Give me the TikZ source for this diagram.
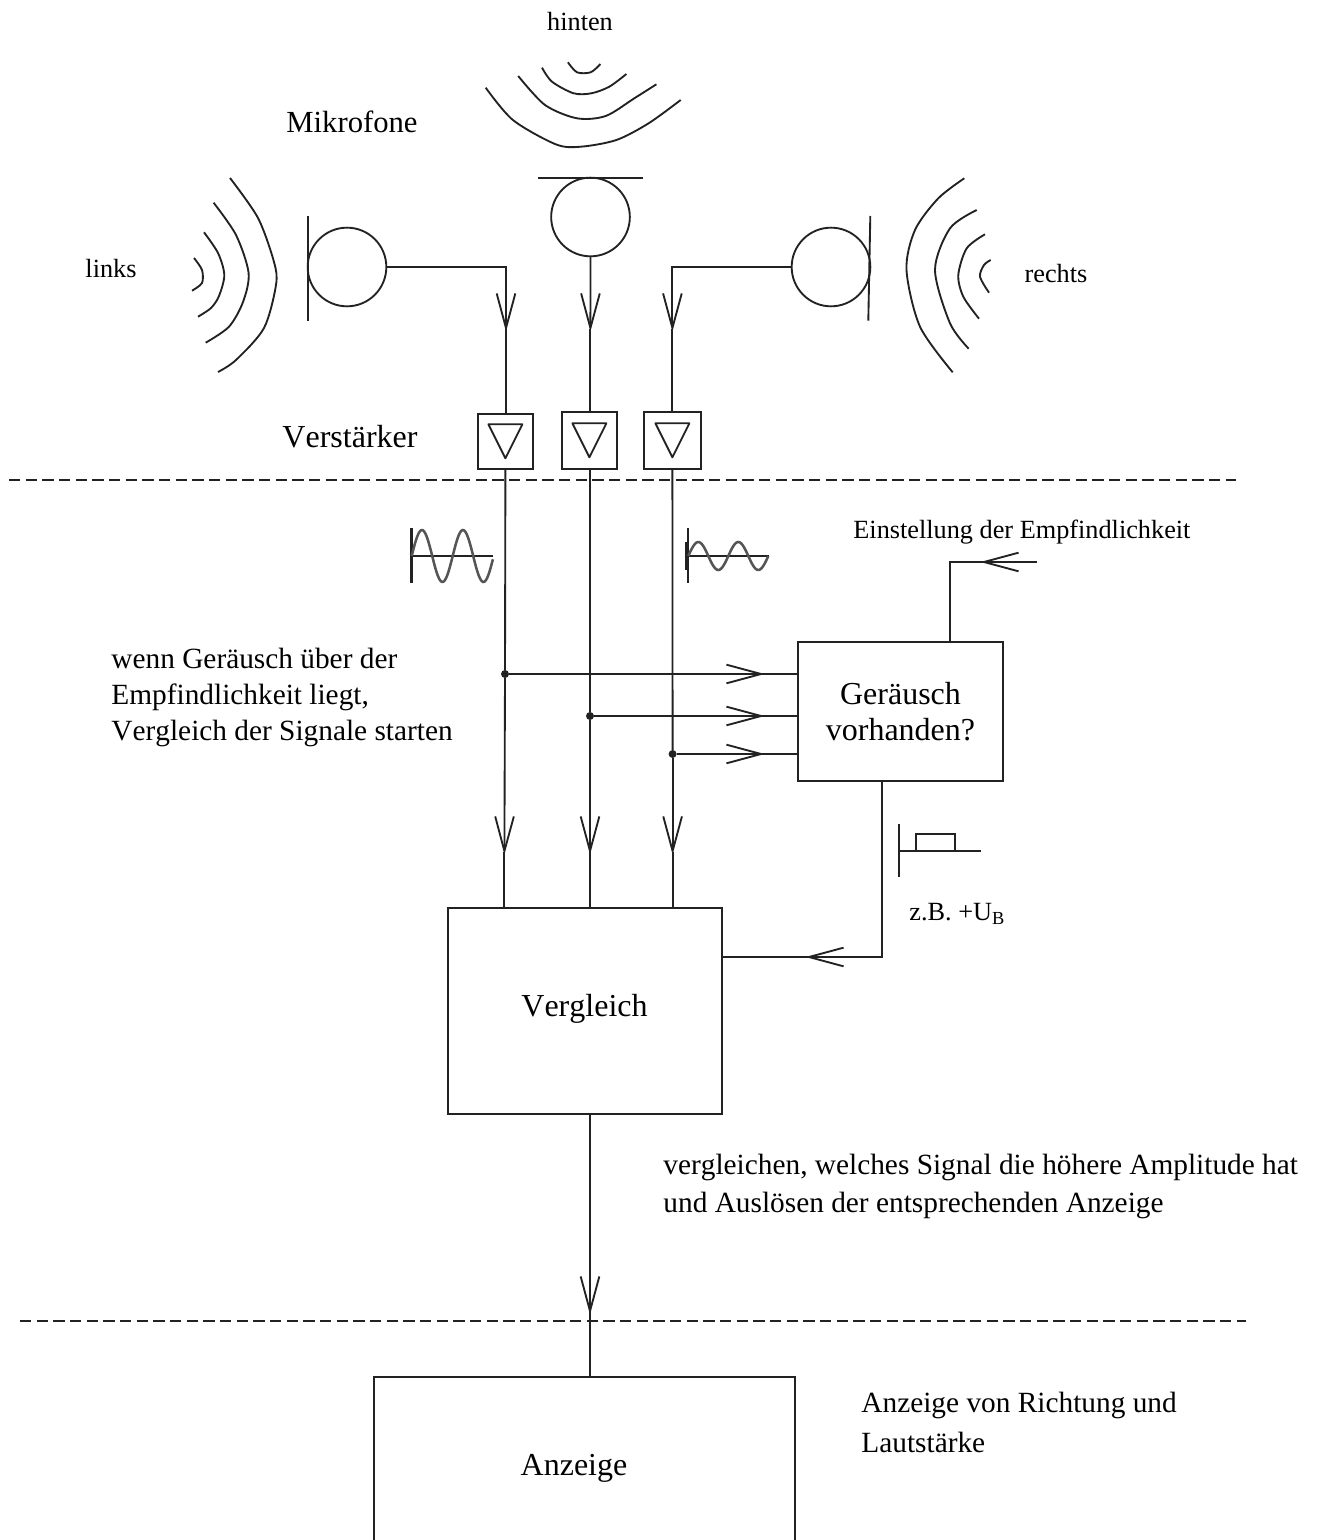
\documentclass[tikz,border=0pt]{standalone}
\usepackage{fontspec}
\setmainfont[Kerning=Off]{Liberation Serif}
\usepackage{xcolor}
\usetikzlibrary{arrows.meta,positioning}

\definecolor{ink}{HTML}{222222}
\definecolor{wave}{HTML}{555555}

\begin{document}
\begin{tikzpicture}[x=0.75pt,y=-0.75pt,line width=1.4pt,draw=ink,text=black]
  \tikzstyle{wire}=[draw=ink,line width=1.4pt]
  \tikzstyle{midtip}=[wire,shorten >=-2pt,-{Straight Barb[length=26pt,width=14pt,line width=1.4pt]}]
  \tikzstyle{mic}=[draw=ink,circle,minimum size=59pt,inner sep=0pt,outer sep=0pt]
  \tikzstyle{amp}=[draw=ink,minimum height=41pt,inner sep=0pt,outer sep=0pt]
  \tikzstyle{block}=[draw=ink,align=center,inner sep=0pt,outer sep=0pt,font=\fontsize{24}{27.5}\selectfont]
  \tikzstyle{dot}=[circle,fill=ink,minimum size=6pt,inner sep=0pt,outer sep=0pt]
  \tikzstyle{big}=[inner sep=0pt,font=\fontsize{24}{27}\selectfont]
  \tikzstyle{mid}=[inner sep=0pt,align=left,anchor=west,font=\fontsize{22}{27}\selectfont]
  \tikzstyle{small}=[inner sep=0pt,font=\fontsize{19.7}{24}\selectfont]
  \tikzstyle{sep}=[line width=1.4pt,dash pattern=on 8.6pt off 3.9pt]
  \tikzstyle{axis}=[line width=2.2pt]
  \tikzstyle{sine}=[draw=wave,line width=1.9pt,smooth]
  \clip (0,0) rectangle (1318,1540);

  % microphones
  \node[mic] (micl) at (347,267) {};
  \node[mic] (micm) at (590.5,217) {};
  \node[mic] (micr) at (831,267) {};
  \draw[wire] (308,216) -- (308,321);
  \draw[wire] (538,178) -- (642.5,178);
  \draw[wire] (870.3,216) -- (868.3,320.7);

  % sound waves
  \draw[wire] plot[smooth] coordinates {(230,178) (258,218) (274,262) (276,285) (264,328) (236,360) (218,372)};
  \draw[wire] plot[smooth] coordinates {(213.6,202.7) (236,235) (248.6,273) (243,302) (229,326.7) (205.7,342.7)};
  \draw[wire] plot[smooth] coordinates {(204,232.3) (218,253) (224.3,275) (219,296) (211,308) (198,316.7)};
  \draw[wire] plot[smooth] coordinates {(194,258) (202,270) (202,283) (192,290.7)};
  \draw[wire] plot[smooth] coordinates {(485.7,87.7) (512.9,120) (555.7,144.3) (580.7,146.7) (616.4,140) (648.6,123.3) (680.7,100)};
  \draw[wire] plot[smooth] coordinates {(518.2,76) (545,105) (577,118.3) (605.7,116) (634.3,98.3) (656.4,84.3)};
  \draw[wire] plot[smooth] coordinates {(542,67.7) (552,81.7) (573.6,93.3) (591.4,93.3) (609.3,86.7) (626.4,74)};
  \draw[wire] plot[smooth] coordinates {(567.9,62.3) (577,72.3) (590.7,72.3) (600.4,64)};
  \draw[wire] plot[smooth] coordinates {(964.3,178.3) (938.3,198.3) (915,230) (906.5,270) (920,326.7) (952.7,372.3)};
  \draw[wire] plot[smooth] coordinates {(976.7,210) (950,228.3) (935,270) (950,323.3) (968.7,348.7)};
  \draw[wire] plot[smooth] coordinates {(985,234.3) (966.7,248.3) (958.3,275) (963.3,296.7) (979,318.7)};
  \draw[wire] plot[smooth] coordinates {(990.7,260) (984,265) (980,276.7) (989,292.7)};

  % amplifiers
  \node[amp,minimum width=41pt,minimum height=41pt] (ampl) at (505.4,441.3) {};
  \node[amp,minimum width=41pt,minimum height=42.5pt] (ampm) at (589.4,440.3) {};
  \node[amp,minimum width=42.5pt,minimum height=42.5pt] (ampr) at (672.4,440.3) {};
  \foreach \n in {ampl,ampm,ampr}
    \draw[wire,line join=round] (\n) ++(-17,-17) -- ++(34,0) -- ++(-17,34) -- cycle;

  % blocks
  \node[block,minimum width=153.75pt,minimum height=104.25pt] (noise) at (900.5,711.5) {Geräusch\\vorhanden?};
  \node[block,minimum width=205.5pt,minimum height=154.5pt] (verg) at (585,1011) {};
  \node[big] (vergt) at (584.5,1009) {Vergleich};
  \node[draw=ink,inner sep=0pt,outer sep=0pt,minimum width=315.75pt,minimum height=150pt] (anz) at (584.5,1477) {};
  \node[big] (anzt) at (574,1468) {Anzeige};

  % junctions and free ends
  \node[dot] (jl) at (505,674) {};
  \node[dot] (jm) at (590,716) {};
  \node[dot] (jr) at (672.6,754) {};
  \coordinate (tl) at (506,329);
  \coordinate (tm) at (590.4,329);
  \coordinate (tr) at (672.4,329);
  \coordinate (dl) at (504.4,852);
  \coordinate (dm) at (590,852);
  \coordinate (dr) at (672.6,852);
  \coordinate (hl) at (762,674);
  \coordinate (hm) at (762,716);
  \coordinate (hr) at (762,754);
  \coordinate (set) at (1037,562);
  \coordinate (sett) at (983,562);
  \coordinate (setc) at (950,562);
  \coordinate (back) at (808,957);
  \coordinate (out) at (590,1312);

  \draw[midtip] (micl.east) -| (tl);
  \draw[midtip] (micm.south) -- (tm);
  \draw[midtip] (micr.west) -| (tr);
  \foreach \a/\b in {tl/ampl,tm/ampm,tr/ampr}
    \draw[wire] (\a) -- (\a |- \b.north);
  \draw[wire] (ampl.south) -- (jl);
  \draw[wire] (jm |- ampm.south) -- (jm);
  \draw[wire] (ampr.south) -- (jr);
  \foreach \a/\b/\c in {jl/dl/hl,jm/dm/hm,jr/dr/hr} {
    \draw[midtip] (\a) -- (\b);
    \draw[wire] (\b) -- (\b |- verg.north);
    \draw[midtip] (\a) -- (\c);
    \draw[wire] (\c) -- (\c -| noise.west);
  }
  \draw[midtip] (set) -- (sett);
  \draw[wire] (sett) -- (setc) -- (setc |- noise.north);
  \draw[midtip] (noise.south -| 882,0) |- (back);
  \draw[wire] (back) -- (back -| verg.east);
  \draw[midtip] (verg.south -| out) -- (out);
  \draw[wire] (out) -- (anz.north -| out);

  % separators
  \coordinate (sa) at (9,480);
  \coordinate (sb) at (1236,480);
  \coordinate (sc) at (20,1321);
  \coordinate (sd) at (1246,1321);
  \draw[sep] (sa) -- (sb);
  \draw[sep] (sc) -- (sd);

  % signal sketches
  \draw[axis] (411.7,528) -- (411.7,583);
  \draw[axis] (411.7,556) -- (493,556);
  \draw[sine] plot[domain=0:1.98,samples=60] ({411.7+41*\x},{556-26*sin(360*\x)});
  \draw[wire] (688.3,528) -- (688.3,583);
  \draw[axis] (686.5,542) -- (686.5,570);
  \draw[axis] (688.3,556) -- (769,556);
  \draw[sine] plot[domain=0:2,samples=60] ({688.3+40*\x},{556-14*sin(360*\x)});
  \draw[axis] (899,824) -- (899,877);
  \draw[axis] (899,851) -- (981,851);
  \draw[wire] (916,851) -- (916,834) -- (955,834) -- (955,851);

  % labels
  \node[small] (hinten) at (580,22) {hinten};
  \node[big,font=\fontsize{23}{27}\selectfont] (mik) at (352,122) {Mikrofone};
  \node[small] (links) at (111,269) {links};
  \node[small] (rechts) at (1056,274) {rechts};
  \node[big] (verst) at (350,437) {Verstärker};
  \node[small,anchor=west] (einst) at (852.5,532) {Einstellung der Empfindlichkeit};
  \node[mid] (wenn) at (110.5,697) {wenn Geräusch über der\\Empfindlichkeit liegt,\\Vergleich der Signale starten};
  \node[small,anchor=west] (zb) at (908.5,914) {z.B. +U\textsubscript{B}};
  \node[mid,font=\fontsize{22}{28.5}\selectfont] (vergl) at (662.5,1186) {vergleichen, welches Signal die höhere Amplitude hat\\und Auslösen der entsprechenden Anzeige};
  \node[mid,font=\fontsize{22}{30}\selectfont] (anzl) at (860.5,1422) {Anzeige von Richtung und\\Lautstärke};
\end{tikzpicture}
\end{document}
